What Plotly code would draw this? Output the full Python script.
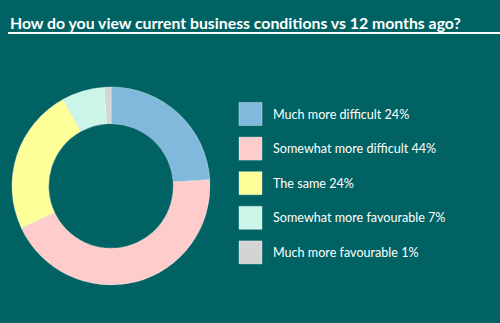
import plotly.graph_objects as go

categories = ["Much more difficult", "Somewhat more difficult", "The same",
              "Somewhat more favourable", "Much more favourable"]
values = [24, 44, 24, 7, 1]
colors = ["#80b9dc", "#ffcccc", "#ffff99", "#ccf5e9", "#d4d4d4"]
title = "How do you view current business conditions vs 12 months ago?"

BG = "#006262"
W, H = 500, 323

fig = go.Figure()
fig.add_trace(go.Pie(
    labels=categories, values=values, sort=False, direction="clockwise",
    rotation=0, hole=0.63,
    marker=dict(colors=colors, line=dict(color="rgba(255,255,255,0.6)", width=0.6)),
    textinfo="none", hoverinfo="label+percent", showlegend=False,
    domain=dict(x=[12 / W, 210 / W], y=[1 - 285 / H, 1 - 87 / H]),
))

# legend as squares + labels
ys = [114 + 34.6 * i for i in range(len(categories))]
fig.add_trace(go.Scatter(
    x=[250.5] * len(categories), y=ys, mode="markers",
    marker=dict(symbol="square", size=23, color=colors,
                line=dict(color="rgba(255,255,255,0.35)", width=1)),
    showlegend=False, hoverinfo="skip",
))
for c, v, y in zip(categories, values, ys):
    fig.add_annotation(x=271, y=y, xref="x", yref="y", text=f"{c} {v}%",
                       showarrow=False, xanchor="left", yanchor="middle",
                       font=dict(family="Lato", size=12.6, color="white"))

fig.add_annotation(x=8, y=22, xref="x", yref="y", text=f"<b>{title}</b>",
                   showarrow=False, xanchor="left", yanchor="middle",
                   font=dict(family="Lato", size=15.8, color="white"))
fig.add_shape(type="line", x0=8, x1=500, y0=33, y1=33, xref="x", yref="y",
              line=dict(color="white", width=2))

fig.update_layout(
    width=W, height=H, margin=dict(l=0, r=0, t=0, b=0),
    paper_bgcolor=BG, plot_bgcolor=BG,
    xaxis=dict(range=[0, W], visible=False, fixedrange=True),
    yaxis=dict(range=[H, 0], visible=False, fixedrange=True),
)
fig.write_html("out.html")
